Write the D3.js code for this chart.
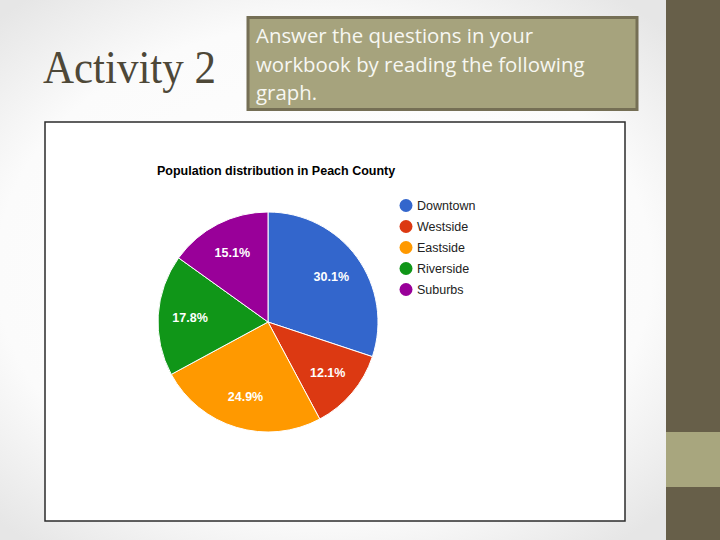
<!DOCTYPE html>
<html>
<head>
<meta charset="utf-8">
<script src="https://cdn.jsdelivr.net/npm/d3@7"></script>
<style>
  html, body { margin: 0; padding: 0; }
</style>
</head>
<body>
<div id="chart"></div>
<script>
// Slide data
const categories = ["Downtown", "Westside", "Eastside", "Riverside", "Suburbs"];
const shares = [30.1, 12.1, 24.9, 17.8, 15.1];
const sliceColors = ["#3366cc", "#dc3912", "#ff9900", "#109618", "#990099"];
const chartTitle = "Population distribution in Peach County";
const slideTitle = "Activity 2";
const boxLines = ["Answer the questions in your", "workbook by reading the following", "graph."];

const width = 720;
const height = 540;

const svg = d3.select("#chart")
    .append("svg")
    .attr("width", width)
    .attr("height", height);

// slide background, slightly gray at the edges
const defs = svg.append("defs");
const bg = defs.append("radialGradient")
    .attr("id", "bg")
    .attr("cx", "45%").attr("cy", "50%").attr("r", "65%");
bg.append("stop").attr("offset", "0%").attr("stop-color", "#ffffff");
bg.append("stop").attr("offset", "70%").attr("stop-color", "#fbfbfb");
bg.append("stop").attr("offset", "100%").attr("stop-color", "#e6e6e6");
svg.append("rect")
    .attr("width", width)
    .attr("height", height)
    .attr("fill", "url(#bg)");

// right side band
svg.append("rect")
    .attr("x", 666).attr("y", 0)
    .attr("width", 54).attr("height", height)
    .attr("fill", "#675f49");
svg.append("rect")
    .attr("x", 666).attr("y", 432)
    .attr("width", 54).attr("height", 55)
    .attr("fill", "#a8a67e");

// slide title
svg.append("text")
    .attr("x", 43)
    .attr("y", 83)
    .attr("font-family", "Liberation Serif, serif")
    .attr("font-size", 46)
    .attr("textLength", 173)
    .attr("lengthAdjust", "spacingAndGlyphs")
    .attr("fill", "#4e4838")
    .text(slideTitle);

// instruction box
svg.append("rect")
    .attr("x", 248).attr("y", 17.5)
    .attr("width", 389).attr("height", 92)
    .attr("fill", "#a6a37d")
    .attr("stroke", "#756f55")
    .attr("stroke-width", 3);
svg.append("g")
    .selectAll("text")
    .data(boxLines)
    .join("text")
    .attr("x", 256)
    .attr("y", (d, i) => 43 + i * 28.5)
    .attr("font-family", "Open Sans, sans-serif")
    .attr("font-size", 20.4)
    .attr("fill", "#f7f7f2")
    .text(d => d);

// chart frame
svg.append("rect")
    .attr("x", 45).attr("y", 122)
    .attr("width", 580).attr("height", 399)
    .attr("fill", "#ffffff")
    .attr("stroke", "#2b2b2b")
    .attr("stroke-width", 1.5);

svg.append("text")
    .attr("x", 157)
    .attr("y", 175)
    .attr("font-family", "Liberation Sans, Arial, sans-serif")
    .attr("font-size", 12.5)
    .attr("font-weight", "bold")
    .attr("fill", "#000")
    .text(chartTitle);

// pie
const cx = 268, cy = 322, radius = 110;
const pie = d3.pie().sort(null).value(d => d.v);
const arc = d3.arc().innerRadius(0).outerRadius(radius);
const labelArc = d3.arc().innerRadius(radius * 0.71).outerRadius(radius * 0.71);
const arcs = pie(categories.map((c, i) => ({ c: c, v: shares[i], col: sliceColors[i] })));

const pieG = svg.append("g").attr("transform", `translate(${cx}, ${cy})`);
pieG.selectAll("path")
    .data(arcs)
    .join("path")
    .attr("d", arc)
    .attr("fill", d => d.data.col)
    .attr("stroke", "#ffffff")
    .attr("stroke-width", 1);
pieG.selectAll("text")
    .data(arcs)
    .join("text")
    .attr("transform", d => `translate(${labelArc.centroid(d)})`)
    .attr("text-anchor", "middle")
    .attr("dy", "0.36em")
    .attr("font-family", "Liberation Sans, Arial, sans-serif")
    .attr("font-size", 12.5)
    .attr("font-weight", "bold")
    .attr("fill", "#ffffff")
    .text(d => d.data.v.toFixed(1) + "%");

// legend
const legendY = d3.scaleBand().domain(categories).range([195, 300]);
const legend = svg.append("g");
const item = legend.selectAll("g")
    .data(categories)
    .join("g")
    .attr("transform", d => `translate(406, ${legendY(d) + legendY.bandwidth() / 2})`);
item.append("circle")
    .attr("r", 6.5)
    .attr("fill", (d, i) => sliceColors[i]);
item.append("text")
    .attr("x", 11)
    .attr("dy", "0.36em")
    .attr("font-family", "Liberation Sans, Arial, sans-serif")
    .attr("font-size", 12.5)
    .attr("fill", "#222")
    .text(d => d);
</script>
</body>
</html>
